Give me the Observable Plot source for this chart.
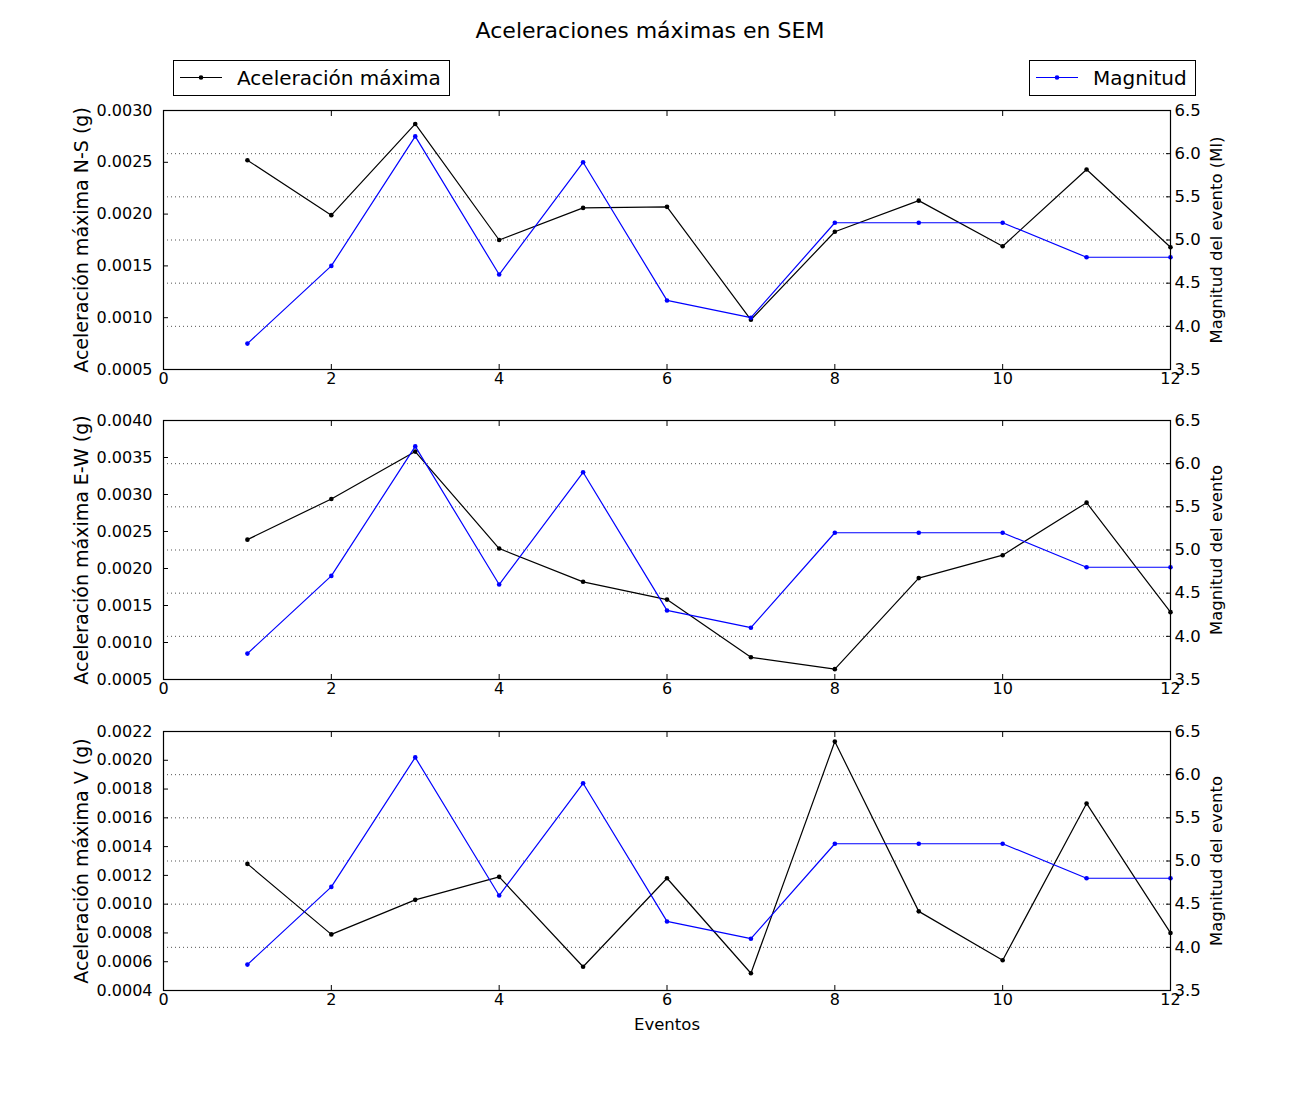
<!DOCTYPE html>
<html>
<head>
<meta charset="utf-8">
<script src="https://cdn.jsdelivr.net/npm/d3@7"></script>
<script src="https://cdn.jsdelivr.net/npm/@observablehq/plot@0.6"></script>
<style>
  html, body { margin: 0; padding: 0; background: white; overflow: hidden; }
  #fig { position: relative; width: 1300px; height: 1100px; background: white; font-family: "DejaVu Sans", sans-serif; }
  .abs { position: absolute; }
  #title { left: 0; top: 18px; width: 1300px; text-align: center; font-size: 22px; line-height: 26px; color: #000; }
</style>
</head>
<body>
<div id="fig">
  <div id="title" class="abs">Aceleraciones máximas en SEM</div>
</div>
<script>
// ---- data ----
const eventos = [1, 2, 3, 4, 5, 6, 7, 8, 9, 10, 11, 12];
const magnitud = [3.8, 4.7, 6.2, 4.6, 5.9, 4.3, 4.1, 5.2, 5.2, 5.2, 4.8, 4.8];
const accNS = [0.00252, 0.00199, 0.00287, 0.00175, 0.00206, 0.00207, 0.00098, 0.00183, 0.00213, 0.00169, 0.00243, 0.00168];
const accEW = [0.00239, 0.00294, 0.00358, 0.00227, 0.00182, 0.00158, 0.00080, 0.00064, 0.00187, 0.00218, 0.00289, 0.00141];
const accV  = [0.00128, 0.00079, 0.00103, 0.00119, 0.000565, 0.00118, 0.00052, 0.00213, 0.00095, 0.00061, 0.00170, 0.00080];

// ---- tick labels ----
const xTicks = [0, 2, 4, 6, 8, 10, 12];
const nsTicks = [0.0005, 0.0010, 0.0015, 0.0020, 0.0025, 0.0030];
const ewTicks = [0.0005, 0.0010, 0.0015, 0.0020, 0.0025, 0.0030, 0.0035, 0.0040];
const vTicks = [0.0004, 0.0006, 0.0008, 0.0010, 0.0012, 0.0014, 0.0016, 0.0018, 0.0020, 0.0022];
const magTicks = [3.5, 4.0, 4.5, 5.0, 5.5, 6.0, 6.5];
const magGrid = [4.0, 4.5, 5.0, 5.5, 6.0];

const title = "Aceleraciones máximas en SEM";
const legendAcc = "Aceleración máxima";
const legendMag = "Magnitud";
const xLabel = "Eventos";

const panels = [
  {acc: accNS, ticks: nsTicks, label: "Aceleración máxima N-S (g)", right: "Magnitud del evento (Ml)", top: 100},
  {acc: accEW, ticks: ewTicks, label: "Aceleración máxima E-W (g)", right: "Magnitud del evento", top: 410},
  {acc: accV, ticks: vTicks, label: "Aceleración máxima V (g)", right: "Magnitud del evento", top: 721}
];

const fig = document.getElementById("fig");
const W = 1300, ML = 163, MR = 130, MT = 10, PH = 259;
const FONT = "DejaVu Sans";

panels.forEach((p, i) => {
  const last = i === panels.length - 1;
  const MB = last ? 50 : 40;
  const H = PH + MT + MB;
  const rows = eventos.map((e, k) => ({evento: e, acc: p.acc[k], mag: magnitud[k]}));
  const common = {
    width: W, height: H, marginLeft: ML, marginRight: MR, marginTop: MT, marginBottom: MB,
    style: {fontFamily: FONT, fontSize: "16px", background: "transparent", color: "black", overflow: "visible"},
    x: {domain: [0, 12], axis: null}
  };

  const base = Plot.plot({
    ...common,
    y: {domain: [p.ticks[0], p.ticks[p.ticks.length - 1]], axis: null},
    marks: [
      Plot.axisX(xTicks, {anchor: "bottom", tickSize: 0, tickPadding: 3, label: null, fontSize: 16, tickFormat: d => String(d)}),
      Plot.axisX(xTicks, {anchor: "bottom", tickSize: 5, dy: -5, label: null, tickFormat: () => ""}),
      Plot.axisX(xTicks, {anchor: "top", tickSize: 5, dy: 5, label: null, tickFormat: () => ""}),
      Plot.axisY(p.ticks, {anchor: "left", tickSize: 0, tickPadding: 11, label: null, fontSize: 16, tickFormat: d3.format(".4f")}),
      Plot.axisY(p.ticks, {anchor: "left", tickSize: 5, dx: 5, label: null, tickFormat: () => ""}),
      Plot.line(rows, {x: "evento", y: "acc", stroke: "black", strokeWidth: 1.2}),
      Plot.dot(rows, {x: "evento", y: "acc", r: 2.3, fill: "black", stroke: "none"}),
      Plot.text([p.label], {frameAnchor: "left", dx: -82, rotate: -90, textAnchor: "middle", fontSize: 19, fill: "black", text: d => d}),
      ...(last ? [Plot.text([xLabel], {frameAnchor: "bottom", dy: 39, fontSize: 16.5, fill: "black", text: d => d})] : [])
    ]
  });

  const over = Plot.plot({
    ...common,
    y: {domain: [3.5, 6.5], axis: null},
    marks: [
      Plot.gridY(magGrid, {stroke: "#000", strokeOpacity: 0.85, strokeWidth: 0.8, strokeDasharray: "1,3"}),
      Plot.axisY(magTicks, {anchor: "right", tickSize: 0, tickPadding: 4, label: null, fontSize: 16.5, tickFormat: d3.format(".1f")}),
      Plot.axisY(magTicks, {anchor: "right", tickSize: 5, dx: -5, label: null, tickFormat: () => ""}),
      Plot.line(rows, {x: "evento", y: "mag", stroke: "#0000ff", strokeWidth: 1.2}),
      Plot.dot(rows, {x: "evento", y: "mag", r: 2.3, fill: "#0000ff", stroke: "none"}),
      Plot.text([p.right], {frameAnchor: "right", dx: 46, rotate: -90, textAnchor: "middle", fontSize: 16.5, fill: "black", text: d => d}),
      Plot.frame({stroke: "black", strokeWidth: 1.2})
    ]
  });

  for (const svg of [base, over]) {
    const wrap = document.createElement("div");
    wrap.className = "abs";
    wrap.style.left = "0px";
    wrap.style.top = p.top + "px";
    wrap.appendChild(svg);
    fig.appendChild(wrap);
  }
});

// ---- legends ----
function legend(left, width, label, color) {
  const svg = d3.create("svg")
    .attr("width", width).attr("height", 36)
    .style("position", "absolute").style("left", left + "px").style("top", "60px");
  svg.append("rect").attr("x", 0.5).attr("y", 0.5).attr("width", width - 1).attr("height", 35)
    .attr("fill", "white").attr("stroke", "black").attr("stroke-width", 1);
  svg.append("line").attr("x1", 7).attr("x2", 49).attr("y1", 17.5).attr("y2", 17.5)
    .attr("stroke", color).attr("stroke-width", 1.2);
  svg.append("circle").attr("cx", 28).attr("cy", 17.5).attr("r", 2.3).attr("fill", color);
  svg.append("text").attr("x", 64).attr("y", 17.5).attr("dy", "0.35em")
    .attr("font-family", FONT).attr("font-size", 20).attr("fill", "black").text(label);
  fig.appendChild(svg.node());
}
legend(173, 277, legendAcc, "black");
legend(1029, 167, legendMag, "#0000ff");
</script>
</body>
</html>
